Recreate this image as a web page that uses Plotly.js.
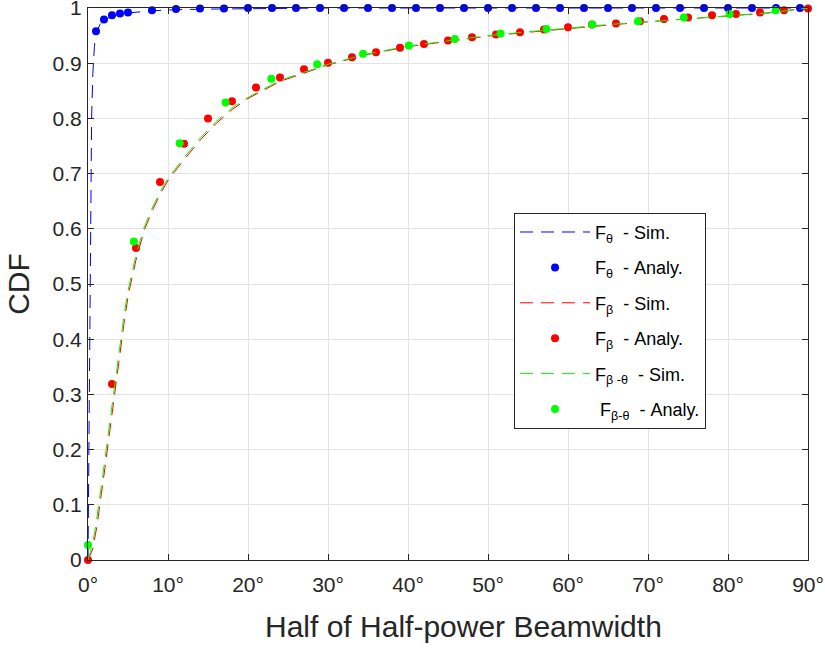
<!DOCTYPE html>
<html><head><meta charset="utf-8">
<script src="https://cdn.plot.ly/plotly-3.0.1.min.js"></script>
<style>html,body{margin:0;padding:0;background:#fff;}#chart{width:825px;height:648px;}</style>
</head><body><div id="chart"></div>
<script>
// Blue: F_theta
const thetaSimX = [0, 0.1, 0.2, 0.3, 0.45, 0.6, 0.8, 1, 1.5, 2, 3, 4, 5, 8, 11, 15, 20, 30, 90];
const thetaSimY = [0, 0.15, 0.3, 0.47, 0.8, 0.88, 0.93, 0.955, 0.97, 0.978, 0.985, 0.989, 0.991, 0.995, 0.997, 0.998, 0.999, 1, 1];
const thetaAnX = [1, 2, 3, 4, 5, 8, 11, 14, 17, 20, 23, 26, 29, 32, 35, 38, 41, 44, 47, 50, 53, 56, 59, 62, 65, 68, 71, 74, 77, 80, 83, 86, 89];
const thetaAnY = [0.958, 0.979, 0.987, 0.990, 0.992, 0.996, 0.998, 0.999, 0.999, 1, 1, 1, 1, 1, 1, 1, 1, 1, 1, 1, 1, 1, 1, 1, 1, 1, 1, 1, 1, 1, 1, 1, 1];
// Red: F_beta
const betaSimX = [0, 0.6, 1.1, 1.6, 2.1, 2.6, 3.1, 3.6, 4.1, 4.6, 5.1, 6.1, 7.1, 8.1, 9.1, 10.1, 12.1, 14.1, 16.1, 18.1, 20, 24, 30, 35, 40, 45, 50, 55, 60, 65, 70, 75, 80, 85, 90];
const betaSimY = [0, 0.02, 0.06, 0.11, 0.165, 0.22, 0.275, 0.33, 0.39, 0.44, 0.485, 0.55, 0.6, 0.635, 0.665, 0.69, 0.727, 0.762, 0.792, 0.817, 0.836, 0.867, 0.897, 0.916, 0.930, 0.940, 0.949, 0.956, 0.963, 0.969, 0.975, 0.980, 0.985, 0.991, 1.0];
const betaAnX = [0, 3, 6, 9, 12, 15, 18, 21, 24, 27, 30, 33, 36, 39, 42, 45, 48, 51, 54, 57, 60, 63, 66, 69, 72, 75, 78, 81, 84, 87, 90];
const betaAnY = [0, 0.319, 0.565, 0.685, 0.754, 0.800, 0.831, 0.856, 0.874, 0.889, 0.901, 0.911, 0.920, 0.928, 0.935, 0.941, 0.947, 0.952, 0.956, 0.961, 0.965, 0.970, 0.972, 0.976, 0.980, 0.983, 0.987, 0.989, 0.992, 0.996, 0.999];
// Green: F_(beta-theta)
const btSimX = [0, 0.5, 1, 1.5, 2, 2.5, 3, 3.5, 4, 4.5, 5, 6, 7, 8, 9, 10, 12, 14, 16, 18, 20, 24, 30, 35, 40, 45, 50, 55, 60, 65, 70, 75, 80, 85, 90];
const btSimY = [0, 0.025, 0.065, 0.115, 0.17, 0.225, 0.28, 0.335, 0.393, 0.443, 0.488, 0.553, 0.602, 0.637, 0.667, 0.692, 0.729, 0.764, 0.794, 0.819, 0.838, 0.869, 0.898, 0.917, 0.931, 0.941, 0.950, 0.957, 0.964, 0.970, 0.975, 0.980, 0.985, 0.991, 1.0];
const btAnX = [0, 5.73, 11.46, 17.19, 22.92, 28.65, 34.38, 40.11, 45.84, 51.57, 57.30, 63.03, 68.75, 74.48, 80.21, 85.94];
const btAnY = [0.027, 0.577, 0.755, 0.829, 0.872, 0.898, 0.917, 0.932, 0.944, 0.954, 0.962, 0.970, 0.976, 0.983, 0.989, 0.996];

const xTickVals = [0, 10, 20, 30, 40, 50, 60, 70, 80, 90];
const xTickText = ['0°', '10°', '20°', '30°', '40°', '50°', '60°', '70°', '80°', '90°'];
const yTickVals = [0, 0.1, 0.2, 0.3, 0.4, 0.5, 0.6, 0.7, 0.8, 0.9, 1];
const yTickText = ['0', '0.1', '0.2', '0.3', '0.4', '0.5', '0.6', '0.7', '0.8', '0.9', '1'];
const xTitle = 'Half of Half-power Beamwidth';
const yTitle = 'CDF';

const dash = '13px,8px';
const ms = 8;
function sim(x, y, color, name, g) {
  return {x: x, y: y, type: 'scatter', mode: 'lines', name: name, legendgroup: g,
    line: {color: color, width: 1, dash: dash}};
}
function an(x, y, color, name, g) {
  return {x: x, y: y, type: 'scatter', mode: 'markers', name: name, legendgroup: g, cliponaxis: false,
    marker: {color: color, size: ms, symbol: 'circle'}};
}
const data = [
  sim(thetaSimX, thetaSimY, '#0000ff', 'F<sub>θ</sub>  - Sim.', 'a'),
  an(thetaAnX, thetaAnY, '#0000ff', 'F<sub>θ</sub>  - Analy.', 'b'),
  sim(betaSimX, betaSimY, '#ff0000', 'F<sub>β</sub>  - Sim.', 'c'),
  an(betaAnX, betaAnY, '#ff0000', 'F<sub>β</sub>  - Analy.', 'd'),
  sim(btSimX, btSimY, '#00ff00', 'F<sub>β -θ</sub>  - Sim.', 'e'),
  an(btAnX, btAnY, '#00ff00', ' F<sub>β-θ</sub>  - Analy.', 'f')
];
const fam = '"Liberation Sans", Arial, Helvetica, sans-serif';
const tickFont = {family: fam, size: 21, color: '#262626'};
const layout = {
  width: 825, height: 648,
  margin: {l: 88, r: 17, t: 8, b: 88},
  paper_bgcolor: '#ffffff', plot_bgcolor: '#ffffff',
  showlegend: true,
  legend: {x: 0.5917, y: 0.629, xanchor: 'left', yanchor: 'top',
    bgcolor: '#ffffff', bordercolor: '#262626', borderwidth: 1,
    font: {family: fam, size: 18, color: '#000000'},
    tracegroupgap: 9, itemwidth: 70},
  xaxis: {range: [0, 90], tickvals: xTickVals, ticktext: xTickText, tickfont: tickFont,
    showgrid: true, gridcolor: '#e3e3e3', gridwidth: 1, zeroline: false,
    showline: true, linecolor: '#262626', linewidth: 1, mirror: 'ticks',
    ticks: 'inside', ticklen: 6, tickcolor: '#262626', ticklabelstandoff: 6, ticklabeloverflow: 'allow'},
  yaxis: {range: [0, 1], tickvals: yTickVals, ticktext: yTickText, tickfont: tickFont,
    showgrid: true, gridcolor: '#e3e3e3', gridwidth: 1, zeroline: false,
    showline: true, linecolor: '#262626', linewidth: 1, mirror: 'ticks',
    ticks: 'inside', ticklen: 6, tickcolor: '#262626', ticklabelstandoff: 1, ticklabeloverflow: 'allow',
    title: {text: yTitle, font: {family: fam, size: 30, color: '#262626'}, standoff: 14}},
  annotations: [{text: xTitle, xref: 'paper', yref: 'paper', x: 0.5215, y: -0.12,
    xanchor: 'center', yanchor: 'middle', showarrow: false,
    font: {family: fam, size: 30, color: '#262626'}}]
};
Plotly.newPlot('chart', data, layout, {displayModeBar: false, staticPlot: true});
</script>
</body></html>
